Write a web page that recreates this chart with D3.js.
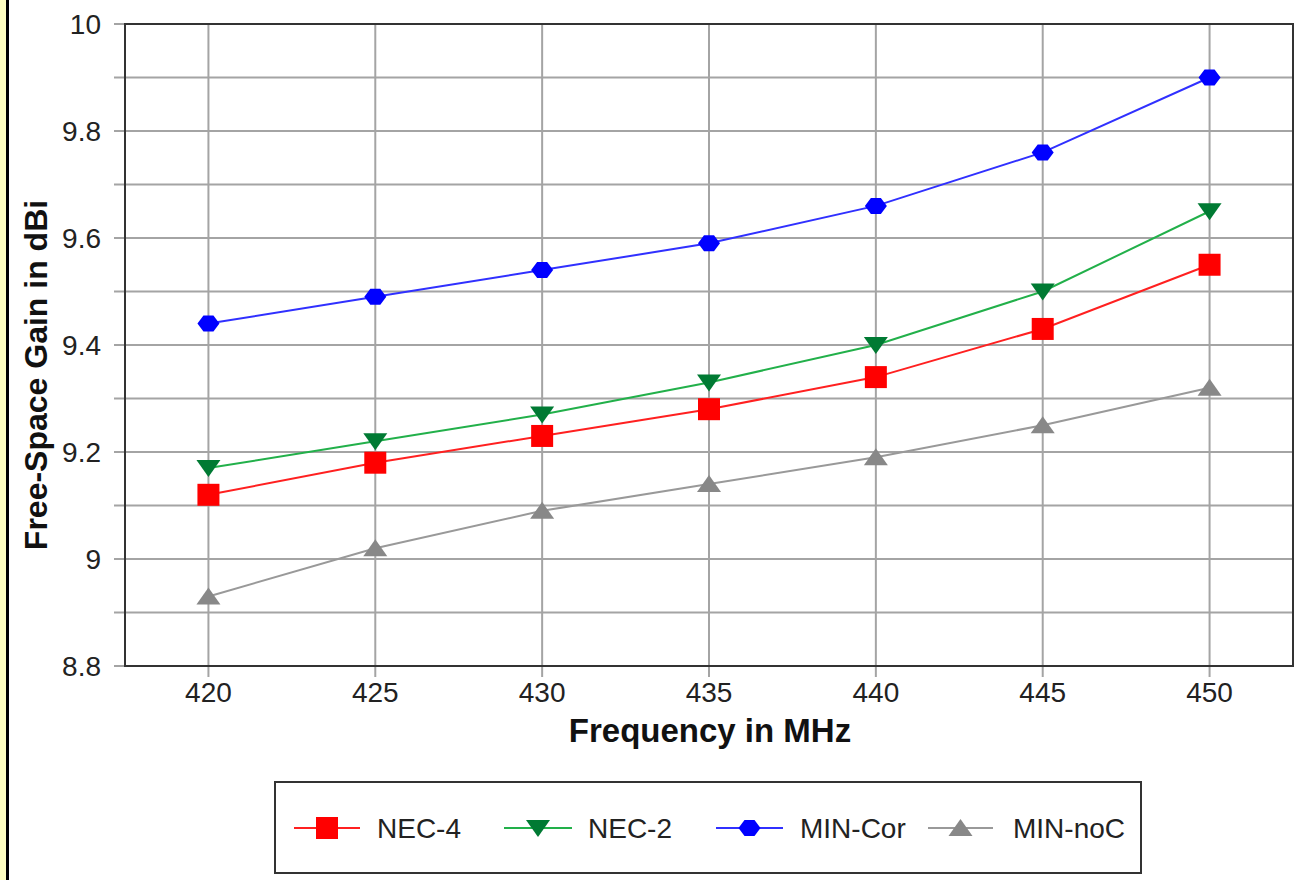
<!DOCTYPE html>
<html>
<head>
<meta charset="utf-8">
<script src="https://cdn.jsdelivr.net/npm/d3@7"></script>
<style>
  body { margin: 0; background: #fff; }
  text { font-family: "Liberation Sans", Arial, sans-serif; }
</style>
</head>
<body>
<div id="chart"></div>
<script>
// Data
var freqs = [420, 425, 430, 435, 440, 445, 450];
var nec4 = [9.12, 9.18, 9.23, 9.28, 9.34, 9.43, 9.55];
var nec2 = [9.17, 9.22, 9.27, 9.33, 9.40, 9.50, 9.65];
var minCor = [9.44, 9.49, 9.54, 9.59, 9.66, 9.76, 9.90];
var minNoC = [8.93, 9.02, 9.09, 9.14, 9.19, 9.25, 9.32];
var yTicks = [8.8, 9, 9.2, 9.4, 9.6, 9.8, 10];
var yMinor = [8.9, 9.1, 9.3, 9.5, 9.7, 9.9];
var seriesNames = ["NEC-4", "NEC-2", "MIN-Cor", "MIN-noC"];

var svgWidth = 1298;
var svgHeight = 880;

var plot = { left: 125, top: 24, right: 1293, bottom: 666 };

var svg = d3.select("#chart")
  .append("svg")
  .attr("width", svgWidth)
  .attr("height", svgHeight);

// yellow strip and black rule on the left edge
svg.append("rect").attr("x", 0).attr("y", 0).attr("width", 6).attr("height", svgHeight).attr("fill", "#ffffc0");
svg.append("rect").attr("x", 6).attr("y", 0).attr("width", 3).attr("height", svgHeight).attr("fill", "#000");

var xScale = d3.scaleLinear().domain([417.5, 452.5]).range([plot.left, plot.right]);
var yScale = d3.scaleLinear().domain([8.8, 10]).range([plot.bottom, plot.top]);

var gridColor = "#a4a4a4";

// minor horizontal grid
svg.append("g").selectAll("line").data(yMinor).enter().append("line")
  .attr("x1", plot.left - 11).attr("x2", plot.right)
  .attr("y1", d => yScale(d)).attr("y2", d => yScale(d))
  .attr("stroke", gridColor).attr("stroke-width", 2);

// major horizontal grid
svg.append("g").selectAll("line").data(yTicks).enter().append("line")
  .attr("x1", plot.left - 11).attr("x2", plot.right)
  .attr("y1", d => yScale(d)).attr("y2", d => yScale(d))
  .attr("stroke", gridColor).attr("stroke-width", 2);

// vertical grid
svg.append("g").selectAll("line").data(freqs).enter().append("line")
  .attr("x1", d => xScale(d)).attr("x2", d => xScale(d))
  .attr("y1", plot.top).attr("y2", plot.bottom + 11)
  .attr("stroke", gridColor).attr("stroke-width", 2);

// frame
svg.append("rect")
  .attr("x", plot.left).attr("y", plot.top)
  .attr("width", plot.right - plot.left).attr("height", plot.bottom - plot.top)
  .attr("fill", "none").attr("stroke", "#333").attr("stroke-width", 2);

// tick labels
svg.append("g").selectAll("text").data(yTicks).enter().append("text")
  .attr("x", 101).attr("y", d => yScale(d))
  .attr("dy", "0.36em")
  .attr("text-anchor", "end")
  .attr("font-size", 28).attr("fill", "#222")
  .text(d => d);

svg.append("g").selectAll("text").data(freqs).enter().append("text")
  .attr("x", d => xScale(d)).attr("y", 692)
  .attr("dy", "0.36em")
  .attr("text-anchor", "middle")
  .attr("font-size", 28).attr("fill", "#222")
  .text(d => d);

// axis titles
svg.append("text")
  .attr("x", 710).attr("y", 742)
  .attr("text-anchor", "middle")
  .attr("font-size", 33).attr("font-weight", "bold").attr("fill", "#111")
  .text("Frequency in MHz");

svg.append("text")
  .attr("transform", "translate(47,375) rotate(-90)")
  .attr("text-anchor", "middle")
  .attr("font-size", 32).attr("font-weight", "bold").attr("fill", "#111")
  .text("Free-Space Gain in dBi");

// series
var series = [
  { name: seriesNames[0], values: nec4, line: "#ff2020", fill: "#ff0000", marker: "square" },
  { name: seriesNames[1], values: nec2, line: "#22b04a", fill: "#007a33", marker: "down" },
  { name: seriesNames[2], values: minCor, line: "#3030ff", fill: "#0000ff", marker: "hex" },
  { name: seriesNames[3], values: minNoC, line: "#999999", fill: "#888888", marker: "up" }
];

function markerPath(type) {
  if (type === "square") return "M-11,-11H11V11H-11Z";
  if (type === "down") return "M-12,-8H12L0,9Z";
  if (type === "up") return "M0,-9L12,8H-12Z";
  return "M-5,-8H5L11,0L5,8H-5L-11,0Z";
}

var line = d3.line()
  .x((d, i) => xScale(freqs[i]))
  .y(d => yScale(d));

series.forEach(function(s) {
  svg.append("path")
    .datum(s.values)
    .attr("d", line)
    .attr("fill", "none")
    .attr("stroke", s.line)
    .attr("stroke-width", 2);
});

series.forEach(function(s) {
  svg.append("g").selectAll("path").data(s.values).enter().append("path")
    .attr("transform", (d, i) => `translate(${xScale(freqs[i])},${yScale(d)})`)
    .attr("d", markerPath(s.marker))
    .attr("fill", s.fill);
});

// legend
svg.append("rect")
  .attr("x", 275).attr("y", 782).attr("width", 866).attr("height", 91)
  .attr("fill", "none").attr("stroke", "#333").attr("stroke-width", 2);

var legendX = [[294, 360, 377], [504, 572, 588], [716, 783, 800], [928, 993, 1013]];
var legendY = 828;

series.forEach(function(s, i) {
  var lx = legendX[i];
  svg.append("line")
    .attr("x1", lx[0]).attr("x2", lx[1])
    .attr("y1", legendY).attr("y2", legendY)
    .attr("stroke", s.line).attr("stroke-width", 2);
  svg.append("path")
    .attr("transform", `translate(${(lx[0] + lx[1]) / 2},${legendY})`)
    .attr("d", markerPath(s.marker))
    .attr("fill", s.fill);
  svg.append("text")
    .attr("x", lx[2]).attr("y", legendY)
    .attr("dy", "0.36em")
    .attr("font-size", 28).attr("fill", "#222")
    .text(s.name);
});
</script>
</body>
</html>
